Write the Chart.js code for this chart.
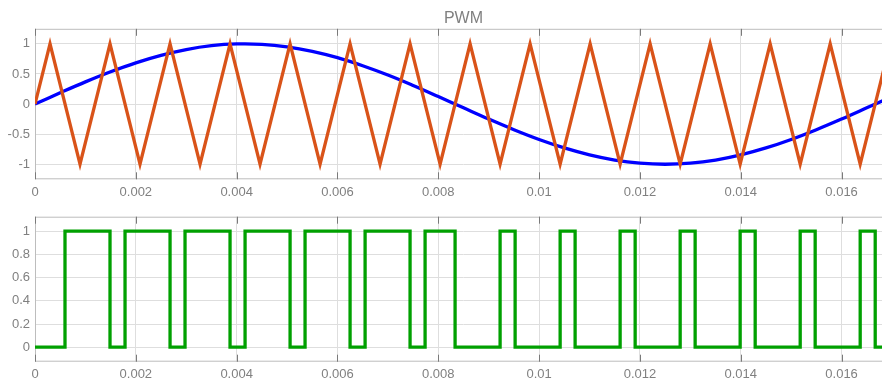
<!DOCTYPE html>
<html>
<head>
<meta charset="utf-8">
<script src="https://cdn.jsdelivr.net/npm/chart.js@4.4.0/dist/chart.umd.min.js"></script>
<style>
  html, body { margin: 0; padding: 0; background: #fff; overflow: hidden; }
  #wrap { position: relative; width: 882px; height: 378px; overflow: hidden; }
  canvas { position: absolute; left: 0; }
</style>
</head>
<body>
<div id="wrap">
  <canvas id="topPlot" width="900" height="200" style="top:0"></canvas>
  <canvas id="bottomPlot" width="900" height="178" style="top:200px"></canvas>
</div>
<script>
    // reference sine (60 Hz), read every 0.5 ms
    const sineT = [0, 0.0005, 0.001, 0.0015, 0.002, 0.0025, 0.003, 0.0035, 0.004, 0.0045,
        0.005, 0.0055, 0.006, 0.0065, 0.007, 0.0075, 0.008, 0.0085, 0.009, 0.0095,
        0.01, 0.0105, 0.011, 0.0115, 0.012, 0.0125, 0.013, 0.0135, 0.014, 0.0145,
        0.015, 0.0155, 0.016, 0.0165, 0.017];
    const sineV = [0, 0.187, 0.368, 0.536, 0.685, 0.809, 0.905, 0.969, 0.998, 0.992,
        0.951, 0.876, 0.771, 0.637, 0.482, 0.309, 0.125, -0.063, -0.249, -0.426,
        -0.588, -0.729, -0.844, -0.930, -0.982, -1.000, -0.982, -0.930, -0.844, -0.729,
        -0.588, -0.426, -0.249, -0.063, 0.125];

    // triangle carrier corners
    const triT = [0, 0.000298, 0.000893, 0.001488, 0.002083, 0.002679, 0.003274, 0.003869,
        0.004464, 0.005060, 0.005655, 0.006250, 0.006845, 0.007440, 0.008036, 0.008631,
        0.009226, 0.009821, 0.010417, 0.011012, 0.011607, 0.012202, 0.012798, 0.013393,
        0.013988, 0.014583, 0.015179, 0.015774, 0.016369, 0.016964];
    const triV = [0, 1, -1, 1, -1, 1, -1, 1, -1, 1, -1, 1, -1, 1, -1, 1,
        -1, 1, -1, 1, -1, 1, -1, 1, -1, 1, -1, 1, -1, 1];

    // PWM switching instants and the level after each one
    const pwmT = [0, 0.000595, 0.001488, 0.001786, 0.002679, 0.002976, 0.003869, 0.004167,
        0.005060, 0.005357, 0.006250, 0.006548, 0.007440, 0.007738, 0.008333, 0.009226,
        0.009524, 0.010417, 0.010714, 0.011607, 0.011905, 0.012798, 0.013095, 0.013988,
        0.014286, 0.015179, 0.015476, 0.016369, 0.016667, 0.017];
    const pwmV = [0, 1, 0, 1, 0, 1, 0, 1, 0, 1, 0, 1, 0, 1, 0, 1,
        0, 1, 0, 1, 0, 1, 0, 1, 0, 1, 0, 1, 0, 0];

    const xTicks = [0, 0.002, 0.004, 0.006, 0.008, 0.01, 0.012, 0.014, 0.016];
    const yTicksTop = [-1, -0.5, 0, 0.5, 1];
    const yTicksBottom = [0, 0.2, 0.4, 0.6, 0.8, 1];

    const textGrey = '#808080';
    const gridGrey = '#dedede';

    Chart.defaults.font.family = '"Liberation Sans", Arial, sans-serif';
    Chart.defaults.font.size = 13;
    Chart.defaults.color = textGrey;

    function pts(xs, ys) {
        return xs.map(function (x, i) { return { x: x, y: ys[i] }; });
    }

    // box round the plot area plus the small dark tick marks
    const boxPlugin = {
        id: 'box',
        beforeDatasetsDraw(chart) {
            const ctx = chart.ctx, a = chart.chartArea, x = chart.scales.x;
            ctx.save();
            ctx.lineWidth = 1;
            ctx.strokeStyle = '#bdbdbd';
            ctx.strokeRect(a.left + 0.5, a.top + 0.5, a.right - a.left - 1, a.bottom - a.top - 1);
            ctx.strokeStyle = '#7a7a7a';
            ctx.beginPath();
            x.ticks.forEach(function (t) {
                const px = Math.round(x.getPixelForValue(t.value)) + 0.5;
                ctx.moveTo(px, a.top);
                ctx.lineTo(px, a.top + 7);
                ctx.moveTo(px, a.bottom);
                ctx.lineTo(px, a.bottom - 7);
            });
            ctx.stroke();
            ctx.restore();
        }
    };

    function xScale(h, pad) {
        return {
            type: 'linear', min: 0, max: 0.017,
            afterBuildTicks: function (s) { s.ticks = xTicks.map(function (v) { return { value: v }; }); },
            afterFit: function (s) { s.height = h; },
            ticks: { padding: pad, maxRotation: 0, autoSkip: false, callback: function (v) { return String(v); } },
            grid: { color: gridGrey, drawTicks: false },
            border: { display: false }
        };
    }

    function yScale(min, max, ticks) {
        return {
            min: min, max: max,
            afterBuildTicks: function (s) { s.ticks = ticks.map(function (v) { return { value: v }; }); },
            afterFit: function (s) { s.width = 35; },
            ticks: { padding: 5, autoSkip: false, callback: function (v) { return String(v); } },
            grid: { color: gridGrey, drawTicks: false },
            border: { display: false }
        };
    }

    new Chart('topPlot', {
        type: 'line',
        data: {
            datasets: [{
                data: pts(triT, triV),
                borderColor: '#D95319',
                borderWidth: 3.3,
                pointRadius: 0,
                borderJoinStyle: 'miter'
            }, {
                data: pts(sineT, sineV),
                borderColor: '#0000FF',
                borderWidth: 3.3,
                pointRadius: 0,
                tension: 0.4
            }]
        },
        options: {
            responsive: false,
            animation: false,
            events: [],
            layout: { padding: { left: 0, right: 8, top: 0, bottom: 0 } },
            plugins: {
                legend: { display: false },
                tooltip: { enabled: false },
                title: {
                    display: true,
                    text: 'PWM',
                    fullSize: false,
                    color: textGrey,
                    font: { size: 16, weight: 'normal' },
                    padding: { top: 9, bottom: 0.6 }
                }
            },
            scales: {
                x: xScale(20.7, 5),
                y: yScale(-1.25, 1.25, yTicksTop)
            }
        },
        plugins: [boxPlugin]
    });

    new Chart('bottomPlot', {
        type: 'line',
        data: {
            datasets: [{
                data: pts(pwmT, pwmV),
                borderColor: '#00A000',
                borderWidth: 3.3,
                pointRadius: 0,
                stepped: true,
                borderJoinStyle: 'miter'
            }]
        },
        options: {
            responsive: false,
            animation: false,
            events: [],
            layout: { padding: { left: 0, right: 8, top: 16.7, bottom: 0 } },
            plugins: {
                legend: { display: false },
                tooltip: { enabled: false }
            },
            scales: {
                x: xScale(16.3, 4.5),
                y: yScale(-0.125, 1.125, yTicksBottom)
            }
        },
        plugins: [boxPlugin]
    });
</script>
</body>
</html>
